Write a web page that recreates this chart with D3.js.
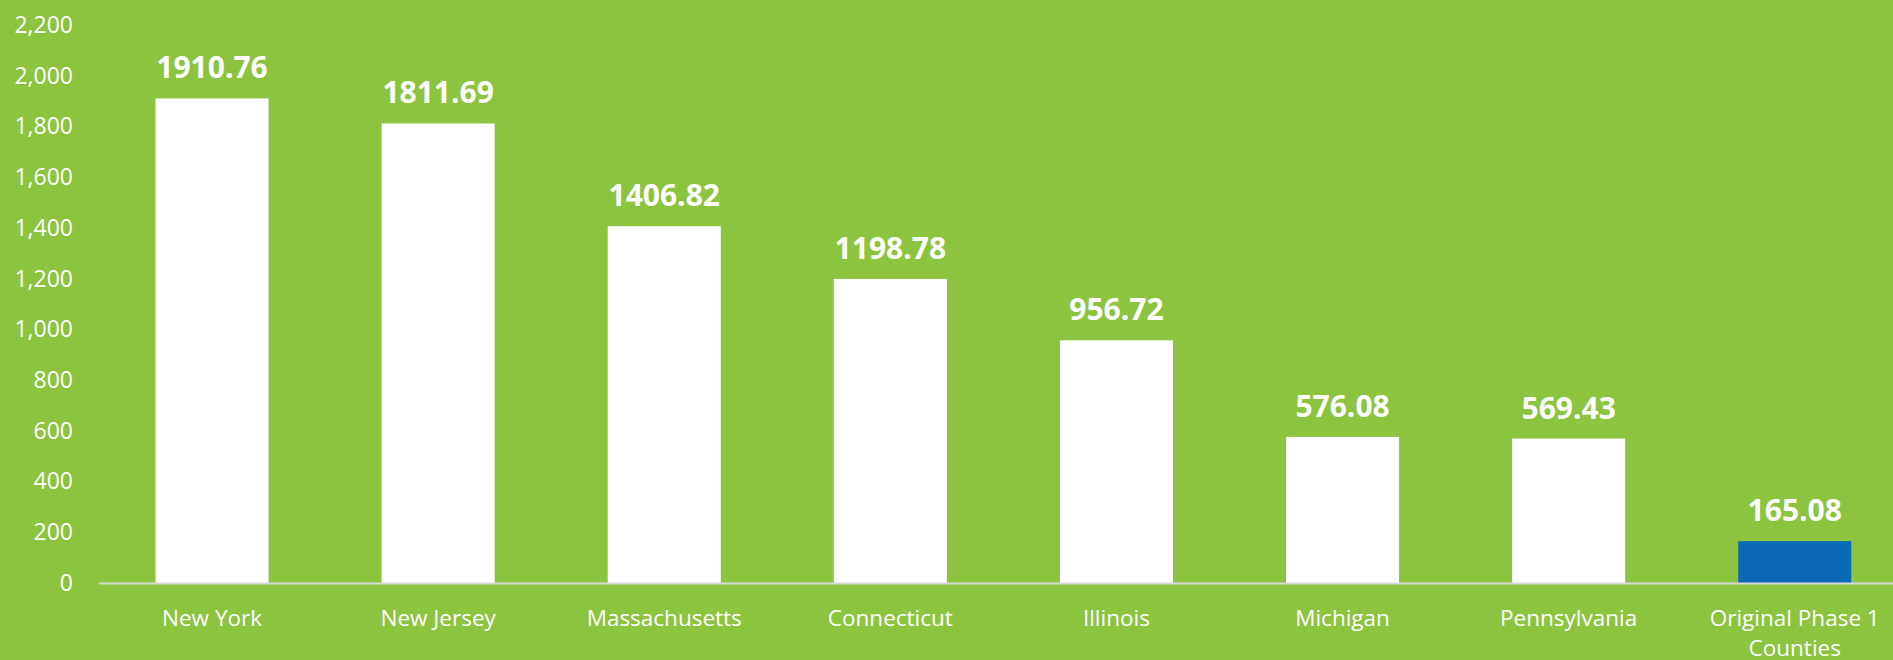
<!DOCTYPE html>
<html>
<head>
  <title>Rates by State</title>
  <script src="https://d3js.org/d3.v7.min.js"></script>
  <meta charset="utf-8">
  <style>
    body { margin: 0; }
    text { font-family: "Open Sans", sans-serif; fill: #FFFFFF; }
    .y.axis .domain { stroke: none; }
    .y.axis line { stroke: none; }
  </style>
</head>
<body>

  <svg id="chart" height="660" width="1893" style="background: #8CC43F; display: block;"></svg>

  <script>
    const states = ["New York", "New Jersey", "Massachusetts", "Connecticut", "Illinois", "Michigan", "Pennsylvania", "Original Phase 1 Counties"];
    const rates = [1910.76, 1811.69, 1406.82, 1198.78, 956.72, 576.08, 569.43, 165.08];
    const barColors = ["#FFFFFF", "#FFFFFF", "#FFFFFF", "#FFFFFF", "#FFFFFF", "#FFFFFF", "#FFFFFF", "#0B69B5"];
    const yTicks = [0, 200, 400, 600, 800, 1000, 1200, 1400, 1600, 1800, 2000, 2200];

    const svg = d3.select("svg#chart");
    const width = svg.attr("width");
    const height = svg.attr("height");
    const margin = { "top": 25, "right": 0, "bottom": 77, "left": 99 };
    const chartHeight = height - margin.top - margin.bottom;

    const xScale = d3.scaleBand().domain(states).range([margin.left, margin.left + 226.1 * states.length]).paddingInner(0.5).paddingOuter(0.25);
    const yScale = d3.scaleLinear().domain([0, 2200]).range([margin.top + chartHeight, margin.top]);

    // y axis labels
    let leftAxis = d3.axisLeft(yScale)
                     .tickValues(yTicks)
                     .tickSize(0)
                     .tickPadding(0)
                     .tickFormat(d3.format(","));
    svg.append("g")
      .attr("class", "y axis")
      .attr("transform", "translate(73,0)")
      .call(leftAxis)
      .selectAll("text")
      .style("font-size", "23px")
      .attr("fill", "#FFFFFF");

    // bars
    svg.selectAll("rect.bar").data(states)
      .join("rect")
      .attr("class", "bar")
      .attr("x", d => xScale(d))
      .attr("width", xScale.bandwidth())
      .attr("y", (d, i) => yScale(rates[i]))
      .attr("height", (d, i) => yScale(0) - yScale(rates[i]))
      .attr("fill", (d, i) => barColors[i]);

    // baseline
    svg.append("line")
      .attr("x1", margin.left)
      .attr("x2", width)
      .attr("y1", yScale(0) + 0.5)
      .attr("y2", yScale(0) + 0.5)
      .attr("stroke", "#D9D9D9")
      .attr("stroke-width", 2);

    // value labels
    svg.selectAll("text.value").data(states)
      .join("text")
      .attr("class", "value")
      .attr("x", d => xScale(d) + xScale.bandwidth() / 2)
      .attr("y", (d, i) => yScale(rates[i]) - 20)
      .attr("text-anchor", "middle")
      .style("font-size", "30px")
      .style("font-weight", "bold")
      .text((d, i) => rates[i].toFixed(2));

    // category labels, wrapped like the original
    let catLabels = svg.selectAll("text.cat").data(states)
      .join("text")
      .attr("class", "cat")
      .attr("x", d => xScale(d) + xScale.bandwidth() / 2)
      .attr("y", yScale(0) + 43)
      .attr("text-anchor", "middle")
      .style("font-size", "22.5px");

    catLabels.each(function(d) {
      let lines = d == "Original Phase 1 Counties" ? ["Original Phase 1", "Counties"] : [d];
      let t = d3.select(this);
      lines.forEach((l, j) => {
        t.append("tspan")
          .attr("x", t.attr("x"))
          .attr("dy", j == 0 ? 0 : 30)
          .text(l);
      });
    });
  </script>

</body>
</html>
